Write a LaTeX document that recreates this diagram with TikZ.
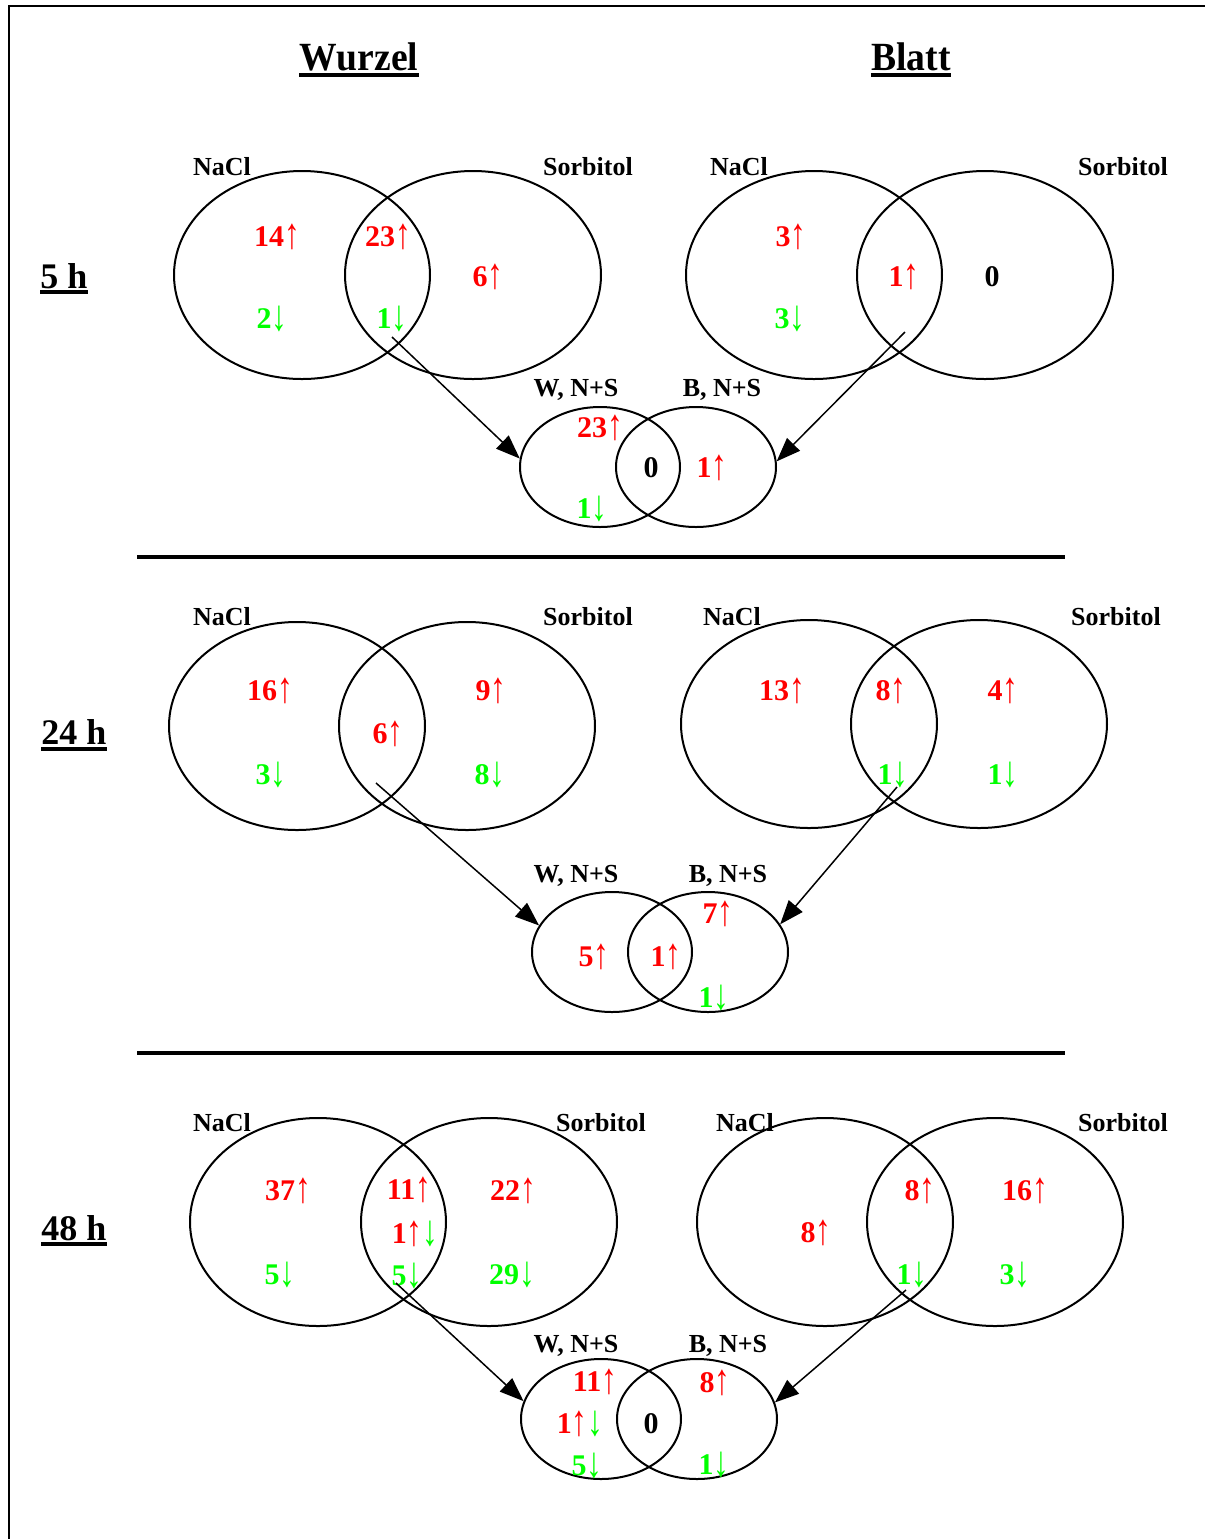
\documentclass[tikz,border=0pt]{standalone}
\usepackage{graphicx}
\usepackage{fontspec}
\setmainfont{Liberation Serif}
\newfontfamily\arrfont{Liberation Serif}
\usetikzlibrary{shapes.geometric,arrows.meta}
\definecolor{vred}{RGB}{255,0,0}
\definecolor{vgreen}{RGB}{0,255,0}
\newcommand\uarr{\raisebox{-1pt}{\scalebox{1.05}[1.45]{\arrfont\mdseries ↑}}}
\newcommand\darr{\raisebox{-1pt}{\scalebox{1.05}[1.45]{\arrfont\mdseries ↓}}}
\tikzset{
  big/.style={ellipse, draw, line width=1pt, minimum width=128pt, minimum height=104pt, inner sep=0pt},
  small/.style={ellipse, draw, line width=1pt, minimum width=80pt, minimum height=60pt, inner sep=0pt},
  num/.style={font=\bfseries\fontsize{15}{18}\selectfont, inner sep=0pt},
  upn/.style={num, text=vred},
  dnn/.style={num, text=vgreen},
  lab/.style={font=\bfseries\fontsize{13}{15}\selectfont, inner sep=0pt},
  head/.style={font=\bfseries\fontsize{20}{24}\selectfont, inner sep=0pt, xscale=0.94},
  rowlab/.style={font=\bfseries\fontsize{18}{21}\selectfont, inner sep=0pt},
  conn/.style={line width=0.75pt, -{Triangle[length=12pt,width=9pt]}},
  uline/.style={line width=2pt}
}
\begin{document}
\begin{tikzpicture}[x=0.5pt,y=-0.5pt]
\useasboundingbox (0,0) rectangle (1205,1539);
% frame
\draw[line width=1pt] (9,1539) -- (9,6) -- (1205,6);
% headers
\node[head] (hw) at (359,57) {Wurzel};
\node[head] (hb) at (911,57) {Blatt};
\draw[uline] ([yshift=-2pt]hw.base west) -- ([yshift=-2pt]hw.base east);
\draw[uline] ([yshift=-2pt]hb.base west) -- ([yshift=-2pt]hb.base east);
% row labels
\node[rowlab] (t1) at (64,276) {5 h};
\node[rowlab] (t2) at (74,732) {24 h};
\node[rowlab] (t3) at (74,1228) {48 h};
\draw[uline] ([yshift=-2pt]t1.base west) -- ([yshift=-2pt]t1.base east);
\draw[uline] ([yshift=-2pt]t2.base west) -- ([yshift=-2pt]t2.base east);
\draw[uline] ([yshift=-2pt]t3.base west) -- ([yshift=-2pt]t3.base east);
% separators
\draw[line width=2pt] (137,557) -- (1065,557);
\draw[line width=2pt] (137,1053) -- (1065,1053);

% ===== Row 1 : 5 h =====
\node[big] (r1wn) at (302,275) {};
\node[big] (r1ws) at (473,275) {};
\node[big] (r1bn) at (814,275) {};
\node[big] (r1bs) at (985,275) {};
\node[lab] (l1a) at (222,167) {NaCl};
\node[lab] (l1b) at (588,167) {Sorbitol};
\node[lab] (l1c) at (739,167) {NaCl};
\node[lab] (l1d) at (1123,167) {Sorbitol};
\node[upn] (n1a) at (277,237) {14\uarr};
\node[upn] (n1b) at (388,237) {23\uarr};
\node[upn] (n1c) at (488,277) {6\uarr};
\node[dnn] (n1d) at (272,319) {2\darr};
\node[dnn] (n1e) at (392,319) {1\darr};
\node[upn] (n1f) at (791,237) {3\uarr};
\node[upn] (n1g) at (904,277) {1\uarr};
\node[num] (n1h) at (992,277) {0};
\node[dnn] (n1i) at (790,319) {3\darr};
\node[small] (r1sw) at (600,467) {};
\node[small] (r1sb) at (696,467) {};
\node[lab] (l1e) at (576,390) {W, N+S};
\node[lab] (l1f) at (722,390) {B, N+S};
\node[upn] (n1j) at (600,428) {23\uarr};
\node[num] (n1k) at (651,468) {0};
\node[upn] (n1l) at (712,468) {1\uarr};
\node[dnn] (n1m) at (592,509) {1\darr};
\coordinate (r1a) at (392,337);
\coordinate (r1b) at (905,332);
\draw[conn] (r1a) -- (r1sw.174);
\draw[conn] (r1b) -- (r1sb.4);

% ===== Row 2 : 24 h =====
\node[big] (r2wn) at (297,726) {};
\node[big] (r2ws) at (467,726) {};
\node[big] (r2bn) at (809,724) {};
\node[big] (r2bs) at (979,724) {};
\node[lab] (l2a) at (222,617) {NaCl};
\node[lab] (l2b) at (588,617) {Sorbitol};
\node[lab] (l2c) at (732,617) {NaCl};
\node[lab] (l2d) at (1116,617) {Sorbitol};
\node[upn] (n2a) at (270,691) {16\uarr};
\node[upn] (n2b) at (491,691) {9\uarr};
\node[upn] (n2c) at (388,734) {6\uarr};
\node[dnn] (n2d) at (271,775) {3\darr};
\node[dnn] (n2e) at (490,775) {8\darr};
\node[upn] (n2f) at (782,691) {13\uarr};
\node[upn] (n2g) at (891,691) {8\uarr};
\node[upn] (n2h) at (1003,691) {4\uarr};
\node[dnn] (n2i) at (893,775) {1\darr};
\node[dnn] (n2j) at (1003,775) {1\darr};
\node[small] (r2sw) at (612,952) {};
\node[small] (r2sb) at (708,952) {};
\node[lab] (l2e) at (576,876) {W, N+S};
\node[lab] (l2f) at (728,876) {B, N+S};
\node[upn] (n2k) at (594,957) {5\uarr};
\node[upn] (n2l) at (666,957) {1\uarr};
\node[upn] (n2m) at (718,914) {7\uarr};
\node[dnn] (n2n) at (714,998) {1\darr};
\coordinate (r2a) at (376,783);
\coordinate (r2b) at (897,787);
\draw[conn] (r2a) -- (r2sw.160);
\draw[conn] (r2b) -- (r2sb.21);

% ===== Row 3 : 48 h =====
\node[big] (r3wn) at (318,1222) {};
\node[big] (r3ws) at (489,1222) {};
\node[big] (r3bn) at (825,1222) {};
\node[big] (r3bs) at (995,1222) {};
\node[lab] (l3a) at (222,1123) {NaCl};
\node[lab] (l3b) at (601,1123) {Sorbitol};
\node[lab] (l3c) at (745,1123) {NaCl};
\node[lab] (l3d) at (1123,1123) {Sorbitol};
\node[upn] (n3a) at (288,1191) {37\uarr};
\node[upn] (n3b) at (409,1190) {11\uarr};
\node[upn] (n3c) at (513,1191) {22\uarr};
\node[num] (n3d) at (415,1234) {\textcolor{vred}{1\uarr}\textcolor{vgreen}{\darr}};
\node[dnn] (n3e) at (280,1275) {5\darr};
\node[dnn] (n3f) at (407,1276) {5\darr};
\node[dnn] (n3g) at (512,1275) {29\darr};
\node[upn] (n3h) at (816,1233) {8\uarr};
\node[upn] (n3i) at (920,1191) {8\uarr};
\node[upn] (n3j) at (1025,1191) {16\uarr};
\node[dnn] (n3k) at (912,1275) {1\darr};
\node[dnn] (n3l) at (1015,1275) {3\darr};
\node[small] (r3sw) at (601,1419) {};
\node[small] (r3sb) at (697,1419) {};
\node[lab] (l3e) at (576,1346) {W, N+S};
\node[lab] (l3f) at (728,1346) {B, N+S};
\node[upn] (n3m) at (595,1382) {11\uarr};
\node[num] (n3n) at (580,1424) {\textcolor{vred}{1\uarr}\textcolor{vgreen}{\darr}};
\node[num] (n3o) at (651,1424) {0};
\node[upn] (n3p) at (715,1383) {8\uarr};
\node[dnn] (n3q) at (587,1466) {5\darr};
\node[dnn] (n3r) at (714,1465) {1\darr};
\coordinate (r3a) at (396,1283);
\coordinate (r3b) at (906,1290);
\draw[conn] (r3a) -- (r3sw.167);
\draw[conn] (r3b) -- (r3sb.12);
\end{tikzpicture}
\end{document}
